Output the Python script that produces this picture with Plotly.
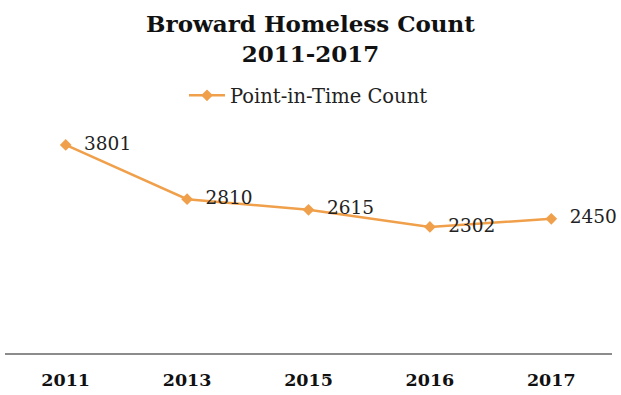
import plotly.graph_objects as go

years = ["2011", "2013", "2015", "2016", "2017"]
counts = [3801, 2810, 2615, 2302, 2450]
series_name = "Point-in-Time Count"
title_text = "<b>Broward Homeless Count<br>2011-2017</b>"

orange = "#F0A04B"
serif = "Georgia, 'DejaVu Serif', serif"

fig = go.Figure()
fig.add_trace(go.Scatter(
    x=years, y=counts, name=series_name,
    mode="lines+markers+text",
    line=dict(color=orange, width=2.5),
    marker=dict(symbol="diamond", size=9, color=orange),
    text=["\u00a0\u00a0" + str(c) for c in counts],
    textposition="middle right",
    textfont=dict(family=serif, size=18.5, color="#222222"),
    cliponaxis=False,
    showlegend=True,
))

fig.update_layout(
    width=621, height=395,
    margin=dict(l=5, r=9, t=134, b=36),
    paper_bgcolor="white", plot_bgcolor="white",
    title=dict(text=title_text, x=0.5, xanchor="center", y=0.92, yanchor="middle",
               font=dict(family=serif, size=23, color="#111111")),
    legend=dict(orientation="h", x=0.5, xanchor="center", y=1.175, yanchor="middle",
                font=dict(family=serif, size=19.5, color="#222222"),
                bgcolor="rgba(0,0,0,0)", itemwidth=36),
    xaxis=dict(type="category", range=[-0.5, 4.5], showgrid=False, zeroline=False,
               showline=True, linecolor="#8c8c8c", linewidth=1.5,
               ticks="", ticklabelstandoff=10,
               tickfont=dict(family=serif, size=17.5, color="#111111"),
               tickprefix="<b>", ticksuffix="</b>"),
    yaxis=dict(range=[0, 4000], showgrid=False, zeroline=False, showline=False,
               showticklabels=False, ticks=""),
)

fig.write_html("out.html")
